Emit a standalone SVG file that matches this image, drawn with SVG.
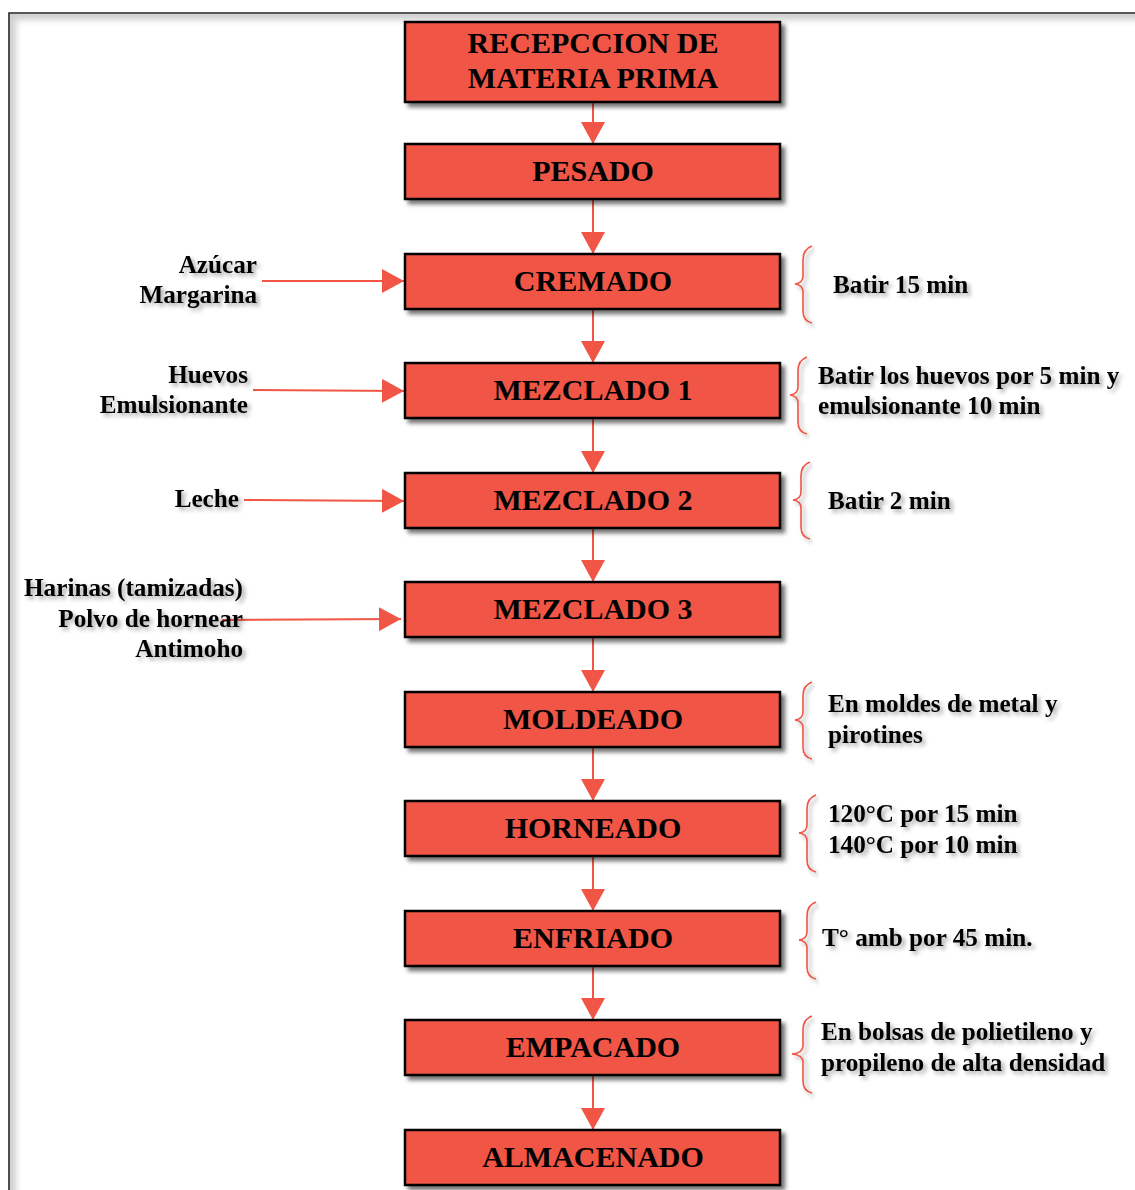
<svg xmlns="http://www.w3.org/2000/svg" width="1135" height="1190" viewBox="0 0 1135 1190">
<defs>
<filter id="sh" x="-10%" y="-20%" width="125%" height="150%">
<feDropShadow dx="4" dy="4" stdDeviation="2.2" flood-color="#000" flood-opacity="0.55"/>
</filter>
<filter id="tsh" x="-10%" y="-30%" width="125%" height="170%">
<feDropShadow dx="3" dy="3" stdDeviation="2" flood-color="#000" flood-opacity="0.35"/>
</filter>
<filter id="inner" x="-5%" y="-5%" width="110%" height="110%">
<feGaussianBlur stdDeviation="3"/>
</filter>
<marker id="ah" markerUnits="userSpaceOnUse" markerWidth="24" markerHeight="24" refX="22" refY="12" orient="auto">
<path d="M0,0 L22,12 L0,24 Z" fill="#F05545"/>
</marker>
<clipPath id="fr"><rect x="10" y="14" width="1125" height="1176"/></clipPath>
</defs>
<style>
.box{fill:#F05545;stroke:#000;stroke-width:2.5;filter:url(#sh)}
.bt{font-family:"Liberation Serif","Times New Roman",serif;font-weight:bold;font-size:30px;text-anchor:middle;fill:#000}
.st{font-family:"Liberation Serif","Times New Roman",serif;font-weight:bold;font-size:25.2px;fill:#000;filter:url(#tsh)}
.lt{text-anchor:end}
.con{stroke:#F05545;stroke-width:2;fill:none}
.br{stroke:#F05545;stroke-width:1.6;fill:none;filter:url(#tsh)}
</style>
<rect width="1135" height="1190" fill="#fff"/>
<g id="frame">
<g clip-path="url(#fr)">
<path d="M4,8 H1145 V20 H16 V1200 H4 Z" fill="#cfcfcf" filter="url(#inner)"/>
</g>
<path d="M9,1190 V13 H1135" fill="none" stroke="#222" stroke-width="1.6"/>
</g>
<g id="connectors">
<line class="con" x1="593" y1="102" x2="593" y2="144" marker-end="url(#ah)"/>
<line class="con" x1="593" y1="199" x2="593" y2="254" marker-end="url(#ah)"/>
<line class="con" x1="593" y1="309" x2="593" y2="363" marker-end="url(#ah)"/>
<line class="con" x1="593" y1="418" x2="593" y2="473" marker-end="url(#ah)"/>
<line class="con" x1="593" y1="528" x2="593" y2="582" marker-end="url(#ah)"/>
<line class="con" x1="593" y1="637" x2="593" y2="692" marker-end="url(#ah)"/>
<line class="con" x1="593" y1="747" x2="593" y2="801" marker-end="url(#ah)"/>
<line class="con" x1="593" y1="856" x2="593" y2="911" marker-end="url(#ah)"/>
<line class="con" x1="593" y1="966" x2="593" y2="1020" marker-end="url(#ah)"/>
<line class="con" x1="593" y1="1075" x2="593" y2="1130" marker-end="url(#ah)"/>
<line class="con" x1="262" y1="281" x2="404" y2="281" marker-end="url(#ah)"/>
<line class="con" x1="253" y1="390" x2="404" y2="391" marker-end="url(#ah)"/>
<line class="con" x1="244" y1="500" x2="404" y2="501" marker-end="url(#ah)"/>
<line class="con" x1="222" y1="620" x2="401" y2="619" marker-end="url(#ah)"/>
</g>
<g id="n1"><rect class="box" x="405" y="22" width="375" height="80"/><text class="bt" x="593" y="53">RECEPCCION DE</text><text class="bt" x="593" y="88">MATERIA PRIMA</text></g>
<g id="n2"><rect class="box" x="405" y="144" width="375" height="55"/><text class="bt" x="593" y="181">PESADO</text></g>
<g id="n3"><rect class="box" x="405" y="254" width="375" height="55"/><text class="bt" x="593" y="291">CREMADO</text></g>
<g id="n4"><rect class="box" x="405" y="363" width="375" height="55"/><text class="bt" x="593" y="400">MEZCLADO 1</text></g>
<g id="n5"><rect class="box" x="405" y="473" width="375" height="55"/><text class="bt" x="593" y="510">MEZCLADO 2</text></g>
<g id="n6"><rect class="box" x="405" y="582" width="375" height="55"/><text class="bt" x="593" y="619">MEZCLADO 3</text></g>
<g id="n7"><rect class="box" x="405" y="692" width="375" height="55"/><text class="bt" x="593" y="729">MOLDEADO</text></g>
<g id="n8"><rect class="box" x="405" y="801" width="375" height="55"/><text class="bt" x="593" y="838">HORNEADO</text></g>
<g id="n9"><rect class="box" x="405" y="911" width="375" height="55"/><text class="bt" x="593" y="948">ENFRIADO</text></g>
<g id="n10"><rect class="box" x="405" y="1020" width="375" height="55"/><text class="bt" x="593" y="1057">EMPACADO</text></g>
<g id="n11"><rect class="box" x="405" y="1130" width="375" height="55"/><text class="bt" x="593" y="1167">ALMACENADO</text></g>
<g id="inputs">
<text class="st lt" x="257" y="273">Azúcar</text><text class="st lt" x="257" y="303">Margarina</text>
<text class="st lt" x="248" y="383">Huevos</text><text class="st lt" x="248" y="413">Emulsionante</text>
<text class="st lt" x="239" y="507">Leche</text>
<text class="st lt" x="243" y="596">Harinas (tamizadas)</text><text class="st lt" x="243" y="627">Polvo de hornear</text><text class="st lt" x="243" y="657">Antimoho</text>
</g>
<g id="notes">
<path class="br" d="M812,246 Q803,249 803,260 L803,276 Q803,283 795,284 Q803,285 803,292 L803,311 Q803,321 812,323"/>
<text class="st" x="833" y="293">Batir 15 min</text>
<path class="br" d="M807,357 Q798,360 798,371 L798,387 Q798,394 790,395 Q798,396 798,403 L798,422 Q798,432 807,434"/>
<text class="st" x="818" y="384">Batir los huevos por 5 min y</text><text class="st" x="818" y="414">emulsionante 10 min</text>
<path class="br" d="M810,462 Q801,465 801,476 L801,492 Q801,499 793,500 Q801,501 801,508 L801,527 Q801,537 810,539"/>
<text class="st" x="828" y="509">Batir 2 min</text>
<path class="br" d="M812,682 Q803,685 803,696 L803,712 Q803,719 795,720 Q803,721 803,728 L803,747 Q803,757 812,759"/>
<text class="st" x="828" y="712">En moldes de metal y</text><text class="st" x="828" y="743">pirotines</text>
<path class="br" d="M816,795 Q807,798 807,809 L807,825 Q807,832 799,833 Q807,834 807,841 L807,860 Q807,870 816,872"/>
<text class="st" x="828" y="822">120°C por 15 min</text><text class="st" x="828" y="853">140°C por 10 min</text>
<path class="br" d="M816,902 Q807,905 807,916 L807,932 Q807,939 799,940 Q807,941 807,948 L807,967 Q807,977 816,979"/>
<text class="st" x="822" y="946">T° amb por 45 min.</text>
<path class="br" d="M812,1016 Q803,1019 803,1030 L803,1046 Q803,1053 792,1054 Q803,1055 803,1062 L803,1081 Q803,1091 812,1093"/>
<text class="st" x="821" y="1040">En bolsas de polietileno y</text><text class="st" x="821" y="1071">propileno de alta densidad</text>
</g>
</svg>
